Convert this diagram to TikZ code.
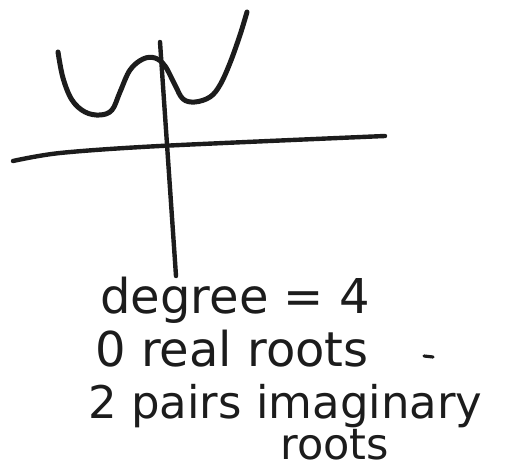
\documentclass[tikz,border=0pt]{standalone}
\usepackage{fontspec}
\setmainfont{DejaVu Sans}
\usepackage{tikz}
\usetikzlibrary{positioning}
\definecolor{mInk}{HTML}{1C1C1C}

\begin{document}
\begin{tikzpicture}[x=0.5pt, y=-0.5pt,
    ink/.style={draw=mInk, line width=2.2pt, line cap=round, line join=round},
    note/.style={anchor=base west, inner sep=0pt, text=mInk, font=\fontsize{24}{30}\selectfont}]
    \useasboundingbox (0,0) rectangle (507,469);
    % axes
    \coordinate (xl) at (13,161);
    \coordinate (xr) at (385,136);
    \coordinate (yt) at (160,42);
    \coordinate (yb) at (176,276);
    \draw[ink] plot[smooth] coordinates {(xl) (60,153) (160,146) (xr)};
    \draw[ink] (yt) -- (yb);
    % quartic curve
    \draw[ink, line width=2.5pt] plot[smooth, tension=0.6] coordinates {(58,52) (63,78) (72,100) (85,112) (100,115) (112,110) (120,92) (130,70) (143,59) (155,58) (165,66) (175,85) (183,99) (195,102) (210,97) (220,85) (230,63) (240,35) (247,12)};
    % labels
    \node[note] (deg) at (100,314) {degree = 4};
    \node[note] (real) at (95,366) {0 real roots};
    \node[note, font=\fontsize{22.5}{28}\selectfont] (pairs) at (88,418) {2 pairs imaginary};
    \node[note, font=\fontsize{21.5}{26}\selectfont] (rts) at (280,459) {roots};
    \draw[ink, line width=1.6pt] (424,356) -- (433,357);
\end{tikzpicture}
\end{document}
